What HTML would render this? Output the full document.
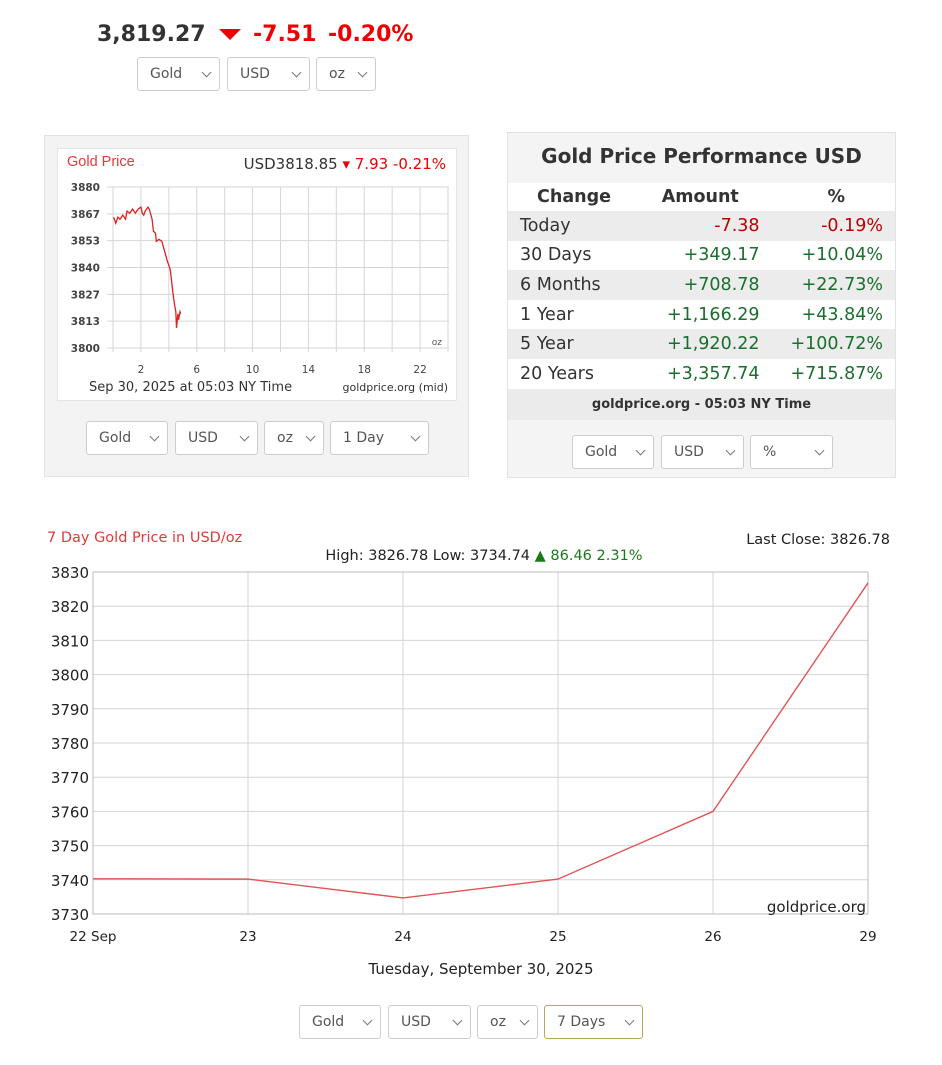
<!DOCTYPE html>
<html><head><meta charset="utf-8">
<style>
body{margin:0;width:942px;height:1065px;background:#fff;position:relative;overflow:hidden;font-family:"DejaVu Sans","Liberation Sans",sans-serif;color:#333}
.a{position:absolute}
.sel{position:absolute;height:34px;border:1px solid #ccc;border-radius:3px;background:#fff;box-sizing:border-box;font-size:14px;color:#555;line-height:32px;padding-left:12px}
.sel:after{content:"";position:absolute;right:9px;top:11px;width:6px;height:6px;border-right:1.3px solid #777;border-bottom:1.3px solid #777;transform:rotate(45deg)}
table{border-collapse:collapse}
</style></head><body>
<div class="a" style="left:97px;top:22px;font-size:22px;font-weight:bold;color:#333">3,819.27</div>
<div class="a" style="left:219px;top:29px;width:0;height:0;border-left:11px solid transparent;border-right:11px solid transparent;border-top:11px solid #e00"></div>
<div class="a" style="left:253px;top:22px;font-size:22px;font-weight:bold;color:#e00">-7.51</div>
<div class="a" style="left:328px;top:22px;font-size:22px;font-weight:bold;color:#e00">-0.20%</div>
<div class="sel" style="left:137px;top:57px;width:83px">Gold</div>
<div class="sel" style="left:227px;top:57px;width:83px">USD</div>
<div class="sel" style="left:316px;top:57px;width:60px">oz</div>

<div class="a" style="left:44px;top:135px;width:425px;height:342px;background:#f3f3f3;border:1px solid #e2e2e2;box-sizing:border-box"></div>
<div class="a" style="left:57px;top:148px;width:400px;height:253px;background:#fff;border:1px solid #e4e4e4;box-sizing:border-box"></div>
<svg class="a" style="left:0;top:0" width="942" height="1065" id="svg1"></svg>
<div class="sel" style="left:86px;top:421px;width:82px">Gold</div>
<div class="sel" style="left:175px;top:421px;width:83px">USD</div>
<div class="sel" style="left:264px;top:421px;width:60px">oz</div>
<div class="sel" style="left:330px;top:421px;width:99px">1 Day</div>

<div class="a" style="left:507px;top:132px;width:389px;height:346px;background:#f4f4f4;border:1px solid #e2e2e2;box-sizing:border-box"></div>
<div class="a" style="left:507px;top:144px;width:389px;text-align:center;font-family:'DejaVu Sans',sans-serif;font-size:20px;font-weight:bold;color:#333">Gold Price Performance USD</div>
<table class="a" style="left:508px;top:183px;width:387px;font-family:'DejaVu Sans',sans-serif;font-size:17.5px">
<tr style="background:#fff;height:28px;font-weight:bold;color:#333"><td style="text-align:center;width:130px">Change</td><td style="text-align:center">Amount</td><td style="text-align:center;padding-left:18px">%</td></tr>
<tr style="background:#ececec;height:29.6px"><td style="padding-left:12px">Today</td><td style="text-align:right;color:#b00">-7.38</td><td style="text-align:right;padding-right:12px;color:#b00">-0.19%</td></tr>
<tr style="background:#fff;height:29.6px"><td style="padding-left:12px">30 Days</td><td style="text-align:right;color:#1a6e2e">+349.17</td><td style="text-align:right;padding-right:12px;color:#1a6e2e">+10.04%</td></tr>
<tr style="background:#ececec;height:29.6px"><td style="padding-left:12px">6 Months</td><td style="text-align:right;color:#1a6e2e">+708.78</td><td style="text-align:right;padding-right:12px;color:#1a6e2e">+22.73%</td></tr>
<tr style="background:#fff;height:29.6px"><td style="padding-left:12px">1 Year</td><td style="text-align:right;color:#1a6e2e">+1,166.29</td><td style="text-align:right;padding-right:12px;color:#1a6e2e">+43.84%</td></tr>
<tr style="background:#ececec;height:29.6px"><td style="padding-left:12px">5 Year</td><td style="text-align:right;color:#1a6e2e">+1,920.22</td><td style="text-align:right;padding-right:12px;color:#1a6e2e">+100.72%</td></tr>
<tr style="background:#fff;height:29.6px"><td style="padding-left:12px">20 Years</td><td style="text-align:right;color:#1a6e2e">+3,357.74</td><td style="text-align:right;padding-right:12px;color:#1a6e2e">+715.87%</td></tr>
<tr style="background:#ebebeb;height:31px;font-size:13px;font-weight:bold"><td colspan="3" style="text-align:center">goldprice.org - 05:03 NY Time</td></tr>
</table>
<div class="sel" style="left:572px;top:435px;width:82px">Gold</div>
<div class="sel" style="left:661px;top:435px;width:83px">USD</div>
<div class="sel" style="left:750px;top:435px;width:83px">%</div>

<div class="sel" style="left:299px;top:1005px;width:82px">Gold</div>
<div class="sel" style="left:388px;top:1005px;width:83px">USD</div>
<div class="sel" style="left:477px;top:1005px;width:61px">oz</div>
<div class="sel" style="left:544px;top:1005px;width:99px;border-color:#b8a85a">7 Days</div>

<script>
// intraday chart data
const hours=[0.05,0.2,0.35,0.5,0.7,0.9,1.0,1.2,1.4,1.6,1.8,2.0,2.1,2.2,2.3,2.5,2.6,2.8,2.9,3.05,3.1,3.3,3.5,3.7,3.9,4.1,4.3,4.4,4.5,4.55,4.65,4.7,4.8,4.85];
const prices1d=[3865,3862,3865,3864,3866,3864,3868,3867,3869,3867,3869,3870,3867,3866,3868,3870,3869,3864,3858,3857,3853,3854,3853,3848,3843,3839,3827,3822,3818,3810,3817,3814,3818,3817];
const yTicks1d=[3800,3813,3827,3840,3853,3867,3880];
const xTicks1d=[2,6,10,14,18,22];
// 7 day chart data
const days=["22 Sep","23","24","25","26","29"];
const prices7d=[3740.3,3740.2,3734.7,3740.2,3760.0,3826.8];
const yTicks7d=[3730,3740,3750,3760,3770,3780,3790,3800,3810,3820,3830];

const NS="http://www.w3.org/2000/svg";
const svg=document.getElementById('svg1');
function mk(tag,attrs,txt){const e=document.createElementNS(NS,tag);for(const k in attrs)e.setAttribute(k,attrs[k]);if(txt!=null)e.textContent=txt;svg.appendChild(e);return e;}

// small chart
const sx=h=>113+h*(448-113)/24, sy=v=>348-(v-3800)*(348-187)/80;
let e;
for(let h=0;h<=24;h+=2){e=mk('line',{x1:sx(h),x2:sx(h),y1:187,y2:352,stroke:'#d6d6d6','stroke-width':1});

}
yTicks1d.forEach((v,i)=>{const y=sy(3800+i*80/6);
e=mk('line',{x1:107,x2:449,y1:y,y2:y,stroke:'#d6d6d6','stroke-width':1});


e=mk('text',{x:100,y:y+4,'text-anchor':'end','font-size':10.5,'font-weight':'bold',fill:'#444','font-family':'DejaVu Sans'},v);

});
xTicks1d.forEach(h=>{e=mk('text',{x:sx(h),y:373,'text-anchor':'middle','font-size':10.5,fill:'#444','font-family':'DejaVu Sans'},h);

});
e=mk('polyline',{points:hours.map((h,i)=>sx(h)+','+sy(prices1d[i])).join(' '),fill:'none',stroke:'#e02020','stroke-width':1.3});


e=mk('text',{x:67,y:166,'font-size':14.5,fill:'#e03a3a','font-family':'Liberation Sans'},'Gold Price');


e=mk('text',{x:446,y:169,'text-anchor':'end','font-size':15,'font-family':'DejaVu Sans'});


e.innerHTML='<tspan fill="#333">USD3818.85 </tspan><tspan fill="#e00">▾ 7.93 -0.21%</tspan>';
e=mk('text',{x:442,y:345,'text-anchor':'end','font-size':9,fill:'#555'},'oz');


e=mk('text',{x:89,y:391,'font-size':13,fill:'#333','font-family':'DejaVu Sans'},'Sep 30, 2025 at 05:03 NY Time');


e=mk('text',{x:448,y:391,'text-anchor':'end','font-size':11,fill:'#333','font-family':'DejaVu Sans'},'goldprice.org (mid)');



// 7-day chart
const L=93,R=868,T=572,B=914;
const bx=i=>L+i*(R-L)/(days.length-1), by=v=>B-(v-3730)*(B-T)/100;
yTicks7d.forEach(v=>{e=mk('line',{x1:L,x2:R,y1:by(v),y2:by(v),stroke:'#d4d4d4','stroke-width':1});


e=mk('text',{x:L-4,y:by(v)+6,'text-anchor':'end','font-size':15,fill:'#222','font-family':'DejaVu Sans'},v);

});
days.forEach((d,i)=>{e=mk('line',{x1:bx(i),x2:bx(i),y1:T,y2:B,stroke:'#d4d4d4','stroke-width':1});


e=mk('text',{x:bx(i),y:941,'text-anchor':'middle','font-size':13.5,fill:'#222','font-family':'DejaVu Sans'},d);

});
e=mk('rect',{x:L,y:T,width:R-L,height:B-T,fill:'none',stroke:'#bbb'});


e=mk('polyline',{points:prices7d.map((v,i)=>bx(i)+','+by(v)).join(' '),fill:'none',stroke:'#e05555','stroke-width':1.4});


e=mk('text',{x:47,y:542,'font-size':14.5,fill:'#e03a3a','font-family':'DejaVu Sans'},'7 Day Gold Price in USD/oz');


e=mk('text',{x:890,y:544,'text-anchor':'end','font-size':14.5,fill:'#222','font-family':'DejaVu Sans'},'Last Close: 3826.78');


e=mk('text',{x:484,y:560,'text-anchor':'middle','font-size':14.5,'font-family':'DejaVu Sans'});


e.innerHTML='<tspan fill="#222">High: 3826.78 Low: 3734.74 </tspan><tspan fill="#1a7a1a">▲ 86.46 2.31%</tspan>';
e=mk('text',{x:866,y:912,'text-anchor':'end','font-size':15,fill:'#222','font-family':'DejaVu Sans'},'goldprice.org');


e=mk('text',{x:481,y:974,'text-anchor':'middle','font-size':15,fill:'#222','font-family':'DejaVu Sans'},'Tuesday, September 30, 2025');


</script>
</body></html>
